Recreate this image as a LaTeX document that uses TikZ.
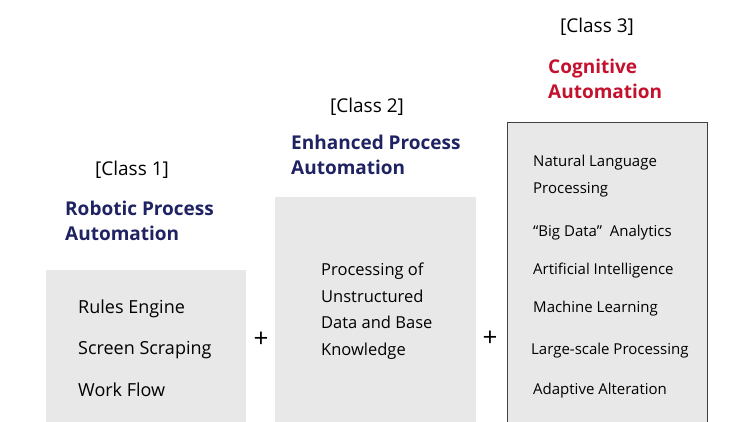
\documentclass[tikz,border=0pt]{standalone}
\usepackage{fontspec}
\setmainfont{Open Sans}
\definecolor{navy}{HTML}{1F2263}
\definecolor{cred}{HTML}{C4112E}
\definecolor{boxgray}{HTML}{E8E8E8}
\begin{document}
\begin{tikzpicture}[x=1pt,y=-1pt,
  classlbl/.style={font=\fontsize{19}{22}\selectfont, anchor=base, inner sep=0pt},
  ttl/.style={font=\fontsize{19}{25}\selectfont\bfseries, anchor=base west, inner sep=0pt, align=left},
  itemA/.style={font=\fontsize{18}{20}\selectfont, anchor=base west, inner sep=0pt},
  itemB/.style={font=\fontsize{16.5}{26.5}\selectfont, anchor=north west, inner sep=0pt, align=left},
  itemC/.style={font=\fontsize{15}{27}\selectfont, anchor=base west, inner sep=0pt, align=left},
  plus/.style={font=\fontsize{26}{26}\selectfont, inner sep=0pt}]
\useasboundingbox (0,0) rectangle (742,421);
\begin{scope}
\clip (0,0) rectangle (742,421);
\fill[boxgray] (46,270) rectangle (246,425);
\fill[boxgray] (275,197) rectangle (476,425);
\filldraw[fill=boxgray, draw=black!75, line width=1pt] (507,122) rectangle (707,430);
\end{scope}
\node[classlbl] (c1) at (132,175) {[Class 1]};
\node[classlbl] (c2) at (367,112) {[Class 2]};
\node[classlbl] (c3) at (597,32) {[Class 3]};
\node[ttl, text=navy] (t1) at (65,240) {Robotic Process\\Automation};
\node[ttl, text=navy] (t2) at (291,174) {Enhanced Process\\Automation};
\node[ttl, text=cred] (t3) at (548,98) {Cognitive\\Automation};
\node[itemA] (a1) at (78,313) {Rules Engine};
\node[itemA] (a2) at (78,354) {Screen Scraping};
\node[itemA] (a3) at (78,396) {Work Flow};
\node[itemB] (b1) at (321,263) {Processing of\\Unstructured\\Data and Base\\Knowledge};
\node[itemC] (n1) at (533,193) {Natural Language\\Processing};
\node[itemC] (n2) at (533,236) {``Big Data''\ \ Analytics};
\node[itemC] (n3) at (533,274) {Artificial Intelligence};
\node[itemC] (n4) at (533,312) {Machine Learning};
\node[itemC] (n5) at (531,354) {Large-scale Processing};
\node[itemC] (n6) at (533,394) {Adaptive Alteration};
\node[plus] (p1) at (261,340) {+};
\node[plus] (p2) at (490,339) {+};
\end{tikzpicture}
\end{document}
